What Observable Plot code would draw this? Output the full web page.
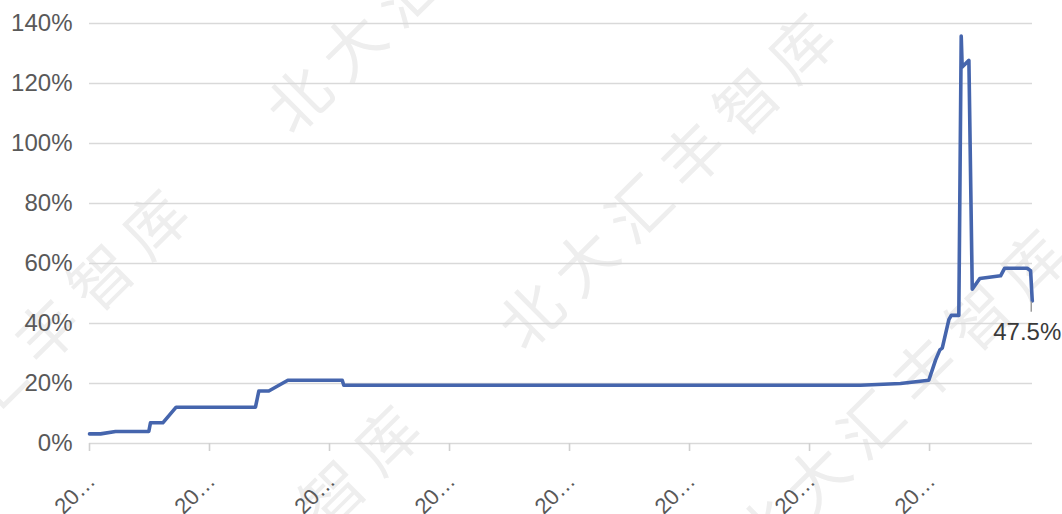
<!DOCTYPE html>
<html>
<head>
<meta charset="utf-8">
<script src="https://cdn.jsdelivr.net/npm/d3@7"></script>
<script src="https://cdn.jsdelivr.net/npm/@observablehq/plot@0.6"></script>
<style>
  html, body { margin: 0; padding: 0; background: #ffffff; }
  #chart { width: 1062px; height: 514px; }
</style>
</head>
<body>
<div id="chart"></div>
<script>
// Series: position index (tick every 10 units) and value in %
const t = [0, 0.92, 2.17, 4.94, 5.08, 6.11, 7.22, 13.83, 14.11, 14.94, 16.53, 21.06, 21.19, 64.25, 67.58, 69.94, 70.5, 70.86, 71.06, 71.61, 71.81, 72.44, 72.64, 72.72, 73.28, 73.56, 74.19, 75.92, 76.25, 78.14, 78.42, 78.56];
const v = [3.2, 3.2, 4.0, 4.0, 6.9, 6.9, 12.1, 12.1, 17.5, 17.5, 21.1, 21.1, 19.4, 19.4, 20.0, 21.1, 27.8, 31.2, 31.8, 41.3, 42.7, 42.7, 135.8, 125.5, 127.7, 51.4, 55.0, 55.9, 58.4, 58.4, 57.6, 47.5];
const xTicks = [0, 10, 20, 30, 40, 50, 60, 70];
const xLabels = ["20…", "20…", "20…", "20…", "20…", "20…", "20…", "20…"];
const yTicks = [0, 20, 40, 60, 80, 100, 120, 140];
const xDomain = [0, 78.58];
const yDomain = [0, 140];
const endLabel = "47.5%";
const watermarkText = "北大汇丰智库";

const data = t.map((d, i) => ({t: d, v: v[i]}));
const last = data[data.length - 1];

const font = "'Liberation Sans', Arial, Helvetica, sans-serif";
const gray = "#595959";

const chart = Plot.plot({
  width: 1062,
  height: 514,
  marginLeft: 89,
  marginRight: 30,
  marginTop: 23,
  marginBottom: 71,
  style: {fontFamily: font, fontSize: "24px", color: gray, background: "#ffffff"},
  x: {type: "linear", domain: xDomain, label: null},
  y: {type: "linear", domain: yDomain, label: null},
  marks: [
    Plot.gridY({ticks: yTicks, stroke: "#d9d9d9", strokeOpacity: 1, strokeWidth: 1.6}),
    Plot.axisY({ticks: yTicks, label: null, tickSize: 0, tickPadding: 17, tickFormat: d => d + "%", fontSize: 24, fill: gray}),
    Plot.axisX({ticks: xTicks, label: null, tickSize: 8, tickFormat: () => "", stroke: "#d0d0d0", strokeWidth: 1.6}),
    Plot.text(xTicks, {x: d => d, frameAnchor: "bottom", text: (d, i) => xLabels[i], rotate: -45, textAnchor: "end", lineAnchor: "middle", dx: 2, dy: 34, fontSize: 22, fill: gray}),
    Plot.line(data, {x: "t", y: "v", stroke: "#4565ad", strokeWidth: 3.6, strokeLinejoin: "round", strokeLinecap: "round"}),
    Plot.ruleX([last], {x: "t", y1: d => d.v, y2: d => d.v - 3.4, dx: -1, dy: 1, stroke: "#9a9a9a", strokeWidth: 1.5}),
    Plot.text([last], {x: "t", y: "v", text: () => endLabel, dx: -5, dy: 31, fontSize: 24, fill: "#3a3a3a", textAnchor: "middle", lineAnchor: "middle"})
  ]
});

document.getElementById("chart").appendChild(chart);

// watermark (decorative, behind the chart)
const wmCenters = [[22, 350], [436, -42], [668, 174], [254, 566], [900, 390]];
const svg = d3.select(chart);
const wm = svg.insert("g", ":first-child").attr("pointer-events", "none");
wm.selectAll("text").data(wmCenters).join("text")
  .attr("transform", d => `translate(${d[0]},${d[1]}) rotate(-44.7)`)
  .attr("text-anchor", "middle")
  .attr("dominant-baseline", "central")
  .attr("font-family", "'Noto Sans CJK SC', sans-serif")
  .attr("font-size", 62)
  .attr("letter-spacing", 14)
  .attr("fill", "#eeeeee")
  .text(watermarkText);
</script>
</body>
</html>
